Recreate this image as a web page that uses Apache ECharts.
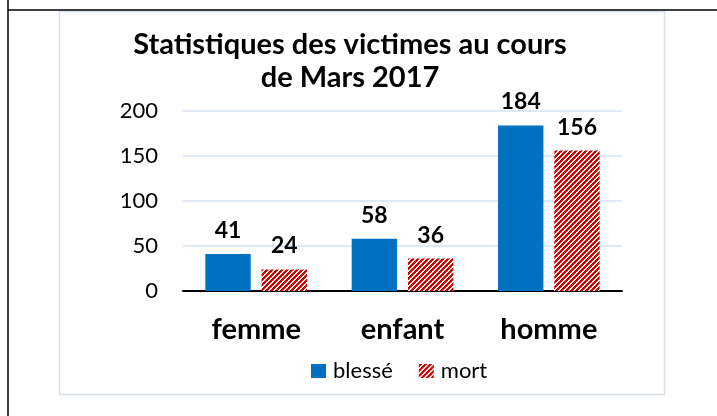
<!DOCTYPE html>
<html>
<head>
<meta charset="utf-8">
<script src="https://cdn.jsdelivr.net/npm/echarts@6/dist/echarts.min.js"></script>
<style>
  html, body { margin: 0; padding: 0; background: #fff; }
  #chart { width: 717px; height: 416px; }
</style>
</head>
<body>
<div id="chart"></div>
<script>
// données du graphique
const categories = ['femme', 'enfant', 'homme'];
const blesse = [41, 58, 184];
const mort = [24, 36, 156];
const yTicks = [0, 50, 100, 150, 200];

const FONT = 'Lato';

// motif hachuré rouge (diagonales montantes)
function hatch() {
  const c = document.createElement('canvas');
  c.width = 10;
  c.height = 10;
  const ctx = c.getContext('2d');
  ctx.fillStyle = '#ffffff';
  ctx.fillRect(0, 0, 10, 10);
  ctx.fillStyle = '#d40000';
  for (let x = 0; x < 10; x++) {
    for (let y = 0; y < 10; y++) {
      if ((x + y) % 5 < 3) ctx.fillRect(x, y, 1, 1);
    }
  }
  return c;
}

const myChart = echarts.init(document.getElementById('chart'));

const dataLabel = {
  show: true,
  position: 'top',
  distance: 12,
  fontFamily: FONT,
  fontWeight: 'bold',
  fontSize: 23,
  color: '#000'
};

const option = {
  backgroundColor: '#fff',
  animation: false,
  graphic: [
    // cadre du tableau
    { type: 'line', shape: { x1: 8, y1: 0, x2: 8, y2: 416 }, style: { stroke: '#000', lineWidth: 1.5 }, z: 0 },
    { type: 'line', shape: { x1: 8, y1: 10, x2: 717, y2: 10 }, style: { stroke: '#000', lineWidth: 1.5 }, z: 0 },
    // bordure de la zone du graphique
    { type: 'rect', shape: { x: 59.5, y: 11.5, width: 605, height: 383 },
      style: { fill: '#fff', stroke: '#d6e0f1', lineWidth: 1.5 }, z: -1 }
  ],
  title: {
    text: 'Statistiques des victimes au cours\nde Mars 2017',
    left: 345,
    top: 23,
    textAlign: 'center',
    textStyle: {
      fontFamily: FONT,
      fontWeight: 'bold',
      fontSize: 29,
      lineHeight: 33,
      color: '#000'
    }
  },
  legend: {
    left: 306,
    top: 355,
    itemWidth: 15,
    itemHeight: 14,
    itemGap: 26,
    icon: 'rect',
    textStyle: { fontFamily: FONT, fontSize: 22, color: '#000', padding: [0, 0, 0, 2] },
    data: ['blessé', 'mort']
  },
  grid: { left: 183, right: 95, top: 111, bottom: 125 },
  xAxis: {
    type: 'category',
    data: categories,
    axisTick: { show: false },
    axisLine: { lineStyle: { color: '#000', width: 2 } },
    axisLabel: {
      margin: 24,
      fontFamily: FONT,
      fontWeight: 'bold',
      fontSize: 29,
      color: '#000'
    }
  },
  yAxis: {
    type: 'value',
    min: yTicks[0],
    max: yTicks[yTicks.length - 1],
    interval: yTicks[1] - yTicks[0],
    axisLine: { show: false },
    axisTick: { show: false },
    splitLine: { lineStyle: { color: '#d6e0f1', width: 1.5 } },
    axisLabel: {
      margin: 25,
      fontFamily: FONT,
      fontSize: 22,
      color: '#000'
    }
  },
  series: [
    {
      name: 'blessé',
      type: 'bar',
      data: blesse,
      barWidth: '31%',
      barGap: '24%',
      itemStyle: { color: '#0070c0' },
      label: dataLabel
    },
    {
      name: 'mort',
      type: 'bar',
      data: mort,
      barWidth: '31%',
      itemStyle: { color: { image: hatch(), repeat: 'repeat' } },
      label: dataLabel
    }
  ]
};

myChart.setOption(option);
</script>
</body>
</html>
